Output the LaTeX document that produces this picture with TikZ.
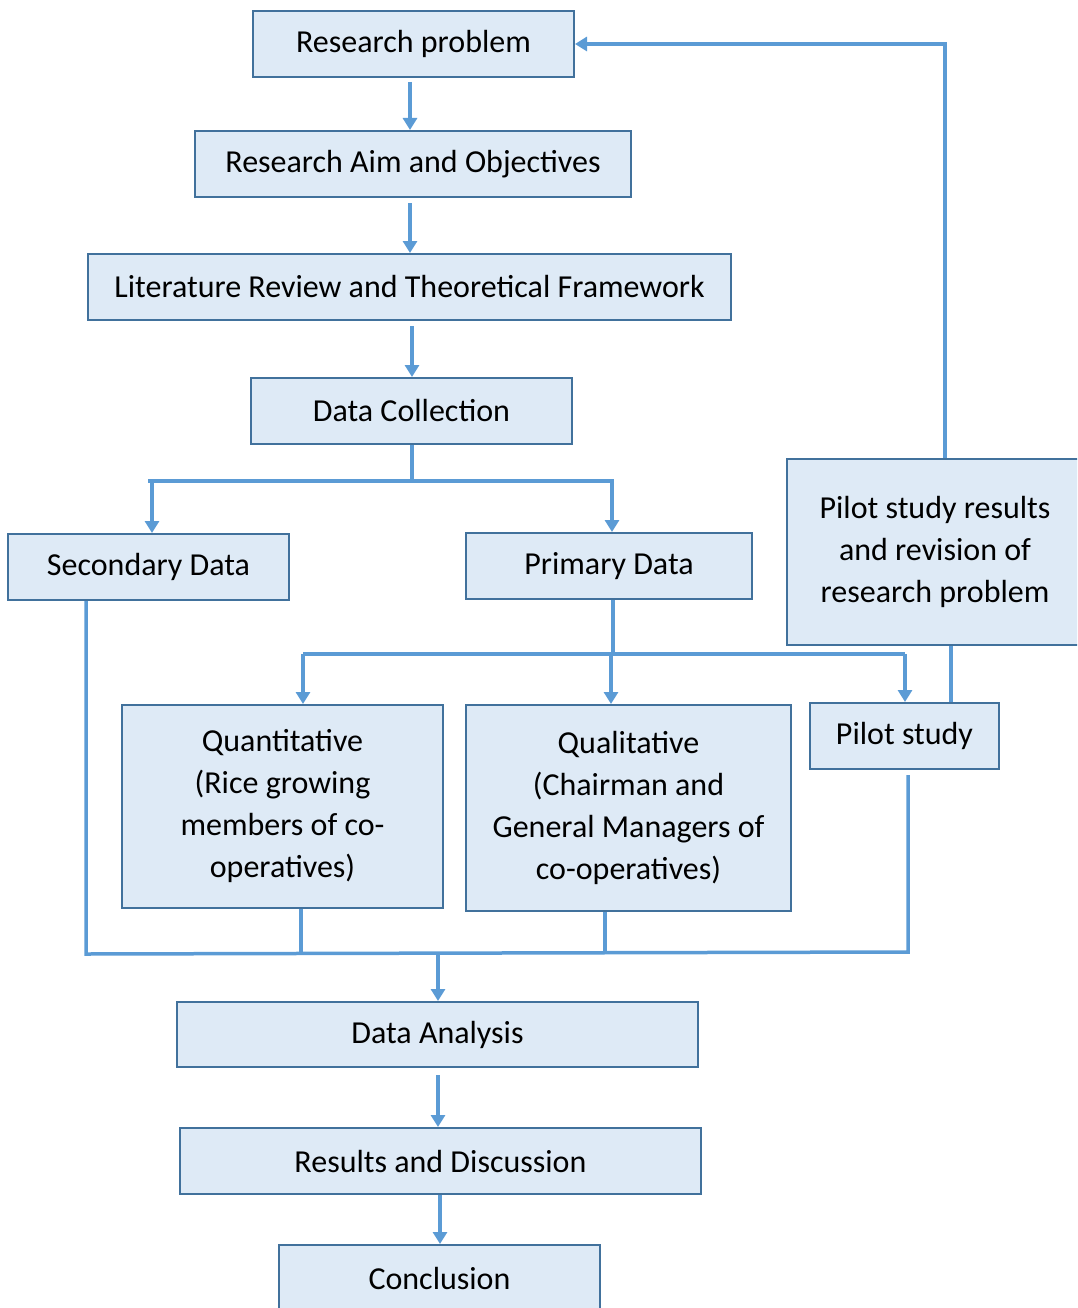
\documentclass[tikz,border=0pt]{standalone}
\usepackage{fontspec}
\setmainfont{Carlito}
\usetikzlibrary{arrows.meta}
\definecolor{boxfill}{HTML}{DEEAF6}
\definecolor{boxline}{HTML}{41719C}
\definecolor{link}{HTML}{5B9BD5}
\begin{document}
\begin{tikzpicture}[x=1pt,y=-1pt,
  box/.style={draw=boxline, fill=boxfill, line width=2pt, inner sep=0pt,
    font=\fontsize{32}{42}\selectfont, align=center},
  wire/.style={draw=link, line width=3.5pt},
  arr/.style={wire, -{Triangle[width=14pt,length=12pt]}}]
\clip (0,0) rectangle (1077,1308);
\useasboundingbox (0,0) rectangle (1077,1308);

% boxes
\node[box, minimum width=321, minimum height=66] (rp) at (413.5,44) {Research problem};
\node[box, minimum width=436, minimum height=66] (ra) at (413,164) {Research Aim and Objectives};
\node[box, minimum width=643, minimum height=66] (lr) at (409.5,287) {Literature Review and Theoretical Framework};
\node[box, minimum width=321, minimum height=66] (dc) at (411.5,411) {Data Collection};
\node[box, minimum width=281, minimum height=66] (sd) at (148.5,567) {Secondary Data};
\node[box, minimum width=286, minimum height=66] (pd) at (609,566) {Primary Data};
\node[box, minimum width=296, minimum height=186] (pr) at (935,552) {Pilot study results\\and revision of\\research problem};
\node[box, minimum width=321, minimum height=203] (qn) at (282.5,806.5) {Quantitative\\(Rice growing\\members of co-\\operatives)};
\node[box, minimum width=325, minimum height=206] (ql) at (628.5,808) {Qualitative\\(Chairman and\\General Managers of\\co-operatives)};
\node[box, minimum width=189, minimum height=66] (ps) at (904.5,736) {Pilot study};
\node[box, minimum width=521, minimum height=65] (da) at (437.5,1034.5) {Data Analysis};
\node[box, minimum width=521, minimum height=66] (rd) at (440.5,1161) {Results and Discussion};
\node[box, minimum width=321, minimum height=66] (cn) at (439.5,1278) {Conclusion};

% junction points
\coordinate (j1) at (412,481);
\coordinate (j2) at (613,654);
\coordinate (j3) at (438,954);

% main chain
\draw[arr] (410,82) -- (410,0 |- ra.north);
\draw[arr] (410,203) -- (410,0 |- lr.north);
\draw[arr] (412,326) -- (412,0 |- dc.north);

% data collection split
\draw[wire] (412,0 |- dc.south) -- (j1);
\draw[wire, line cap=rect] (150,481) -- (612,481);
\draw[arr] (152,481) -- (152,0 |- sd.north);
\draw[arr] (612,481) -- (612,0 |- pd.north);

% primary data split
\draw[wire] (613,0 |- pd.south) -- (j2);
\draw[wire] (303,654) -- (905,654);
\draw[arr] (303,654) -- (303,0 |- qn.north);
\draw[arr] (611,654) -- (611,0 |- ql.north);
\draw[arr] (905,654) -- (905,0 |- ps.north);

% pilot loop back to the research problem
\draw[wire] (951,0 |- pr.south) -- (951,0 |- ps.north);
\draw[arr] (945,0 |- pr.north) -- (945,44) -- (rp.east);

% merge into data analysis
\draw[wire] (86,0 |- sd.south) -- (86,954) -- (908,952) -- (908,775);
\draw[wire] (301,0 |- qn.south) -- (301,954);
\draw[wire] (605,0 |- ql.south) -- (605,952);
\draw[arr] (j3) -- (438,0 |- da.north);

\draw[arr] (438,1075) -- (438,0 |- rd.north);
\draw[arr] (440,0 |- rd.south) -- (440,0 |- cn.north);
\end{tikzpicture}
\end{document}
